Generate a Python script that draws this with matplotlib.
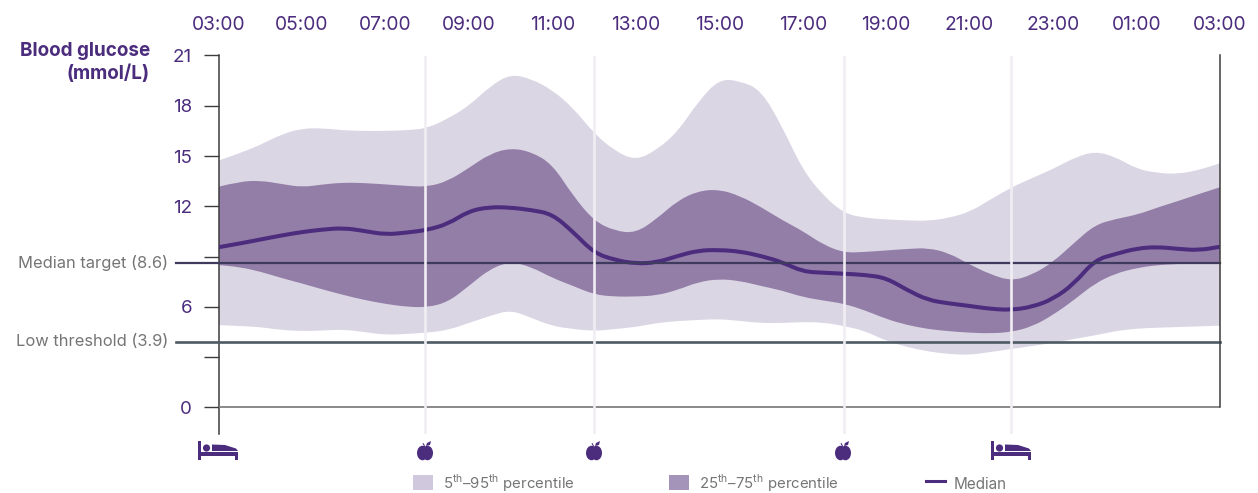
import numpy as np
import matplotlib
matplotlib.use('Agg')
import matplotlib.pyplot as plt
from matplotlib.path import Path
from matplotlib.patches import Ellipse, PathPatch, Polygon, Rectangle, Circle

# Hours since 03:00, one reading every half hour
hours = np.arange(0, 24.5, 0.5)

p95 = [14.73, 15.16, 15.66, 16.29, 16.65, 16.66, 16.53, 16.50, 16.50, 16.54,
       16.65, 17.24, 17.99, 19.15, 19.90, 19.60, 18.94, 17.87, 16.35, 15.30,
       14.74, 15.36, 16.44, 18.26, 19.60, 19.48, 18.94, 16.80, 14.17, 12.62,
       11.57, 11.31, 11.22, 11.16, 11.13, 11.31, 11.66, 12.41, 13.13, 13.69,
       14.23, 14.89, 15.29, 14.95, 14.23, 13.99, 13.93, 14.17, 14.57]
p75 = [13.17, 13.48, 13.54, 13.34, 13.14, 13.31, 13.42, 13.39, 13.31, 13.22,
       13.16, 13.51, 14.29, 15.13, 15.48, 15.25, 14.51, 12.62, 11.13, 10.53,
       10.41, 11.25, 12.34, 12.92, 13.01, 12.62, 11.96, 11.19, 10.53, 9.70,
       9.23, 9.28, 9.37, 9.46, 9.52, 9.22, 8.53, 7.94, 7.55, 7.91,
       8.68, 9.81, 10.89, 11.25, 11.49, 11.93, 12.32, 12.74, 13.14]
p25 = [8.50, 8.38, 8.11, 7.73, 7.40, 7.04, 6.71, 6.41, 6.18, 6.01,
       5.97, 6.29, 7.25, 8.26, 8.71, 8.38, 7.73, 7.25, 6.74, 6.61,
       6.62, 6.68, 7.01, 7.49, 7.67, 7.55, 7.25, 6.98, 6.59, 6.38,
       6.19, 5.79, 5.28, 4.92, 4.68, 4.55, 4.46, 4.42, 4.50, 4.83,
       5.52, 6.41, 7.40, 8.00, 8.32, 8.50, 8.56, 8.62, 8.65]
p5 = [4.92, 4.86, 4.80, 4.62, 4.56, 4.59, 4.65, 4.50, 4.33, 4.39,
      4.46, 4.62, 5.04, 5.46, 5.82, 5.34, 4.86, 4.68, 4.56, 4.68,
      4.80, 5.04, 5.16, 5.22, 5.28, 5.16, 5.04, 5.04, 5.10, 5.07,
      4.86, 4.56, 3.97, 3.61, 3.34, 3.19, 3.13, 3.31, 3.49, 3.67,
      3.85, 4.09, 4.30, 4.56, 4.71, 4.76, 4.80, 4.84, 4.88]
median = [9.56, 9.78, 10.02, 10.26, 10.47, 10.62, 10.71, 10.53, 10.32, 10.43,
          10.59, 10.95, 11.72, 11.96, 11.93, 11.78, 11.54, 10.47, 9.22, 8.80,
          8.58, 8.65, 9.04, 9.37, 9.40, 9.31, 9.04, 8.68, 8.11, 8.04,
          7.98, 7.91, 7.73, 7.01, 6.41, 6.21, 6.06, 5.88, 5.82, 6.00,
          6.47, 7.37, 8.80, 9.16, 9.49, 9.58, 9.46, 9.38, 9.59]

time_ticks = np.arange(0, 25, 2)
time_labels = ['03:00', '05:00', '07:00', '09:00', '11:00', '13:00', '15:00',
               '17:00', '19:00', '21:00', '23:00', '01:00', '03:00']
y_ticks = [0, 3, 6, 9, 12, 15, 18, 21]
y_labels = ['0', '', '6', '', '12', '15', '18', '21']
event_hours = [4.95, 9, 15, 19]
median_target = 8.6
low_threshold = 3.9

PURPLE = '#4b2c7d'
LIGHT = '#dbd6e4'
MID = '#937ea8'
GREY = '#757575'

plt.rcParams['font.family'] = ['Inter', 'DejaVu Sans']
plt.rcParams['mathtext.fontset'] = 'custom'
plt.rcParams['mathtext.rm'] = 'Inter'


# Curve segments with the readings as control points, drawn by the Path itself
def curve(x, y):
    verts = [(x[0], y[0])]
    codes = [Path.MOVETO]
    for i in range(1, len(x) - 1):
        verts += [(x[i], y[i]), ((x[i] + x[i + 1]) / 2, (y[i] + y[i + 1]) / 2)]
        codes += [Path.CURVE3, Path.CURVE3]
    verts.append((x[-1], y[-1]))
    codes.append(Path.LINETO)
    return verts, codes


def band(x, low, high, color, z):
    v1, c1 = curve(x, high)
    v2, c2 = curve(x[::-1], low[::-1])
    c2[0] = Path.LINETO
    path = Path(v1 + v2 + [v1[0]], c1 + c2 + [Path.CLOSEPOLY])
    ax.add_patch(PathPatch(path, facecolor=color, lw=0, zorder=z))


W, H = 1258, 493
fig = plt.figure(figsize=(W / 100, H / 100), dpi=100)

# Main axes, runs below zero so the vertical lines can hang under the plot
left, right, top, bottom = 218.5, 1220, 55.5, 434
ax = fig.add_axes([left / W, 1 - bottom / H, (right - left) / W, (bottom - top) / H])
ax.set_xlim(0, 24)
ax.set_ylim(-(bottom - 407.5) / 16.76, 21)
ax.patch.set_visible(False)

band(hours, p5, p95, LIGHT, 1)
band(hours, p25, p75, MID, 2)
mv, mc = curve(hours, median)
ax.add_patch(PathPatch(Path(mv, mc), facecolor='none', edgecolor=PURPLE, lw=2.9,
                       capstyle='butt', zorder=3))

# Target lines and the zero line reach out past the axis
trans = ax.get_yaxis_transform()
ax.plot([-0.0425, 1], [median_target] * 2, transform=trans, color='#3f3b5e', lw=1.6, clip_on=False, zorder=4)
ax.plot([-0.0425, 1], [low_threshold] * 2, transform=trans, color='#4d5a64', lw=1.9, clip_on=False, zorder=4)
ax.axhline(0, color='#808080', lw=1.3, zorder=4)
ax.plot([24, 24], [0, 21], color='#3c3c3c', lw=1.1, clip_on=False, zorder=5)

for h in event_hours:
    ax.axvline(h, color='#f1eef3', lw=1.9, zorder=6)

for name in ['top', 'right', 'bottom']:
    ax.spines[name].set_visible(False)
ax.spines['left'].set_color('#3c3c3c')
ax.spines['left'].set_linewidth(1.1)

ax.set_yticks(y_ticks)
ax.set_yticklabels(y_labels, fontsize=13.5, color=PURPLE)
ax.tick_params(axis='y', length=11, width=1.0, color='#3c3c3c', pad=8)

ax.xaxis.tick_top()
ax.set_xticks(time_ticks)
ax.set_xticklabels(time_labels, fontsize=13.8, color=PURPLE)
ax.tick_params(axis='x', length=0, pad=15.3)

# Overlay in picture pixels for labels, legend and icons
ov = fig.add_axes([0, 0, 1, 1])
ov.set_xlim(0, W)
ov.set_ylim(H, 0)
ov.axis('off')

ov.text(150, 51.5, 'Blood glucose', ha='right', va='center', fontsize=13.6, fontweight='bold', color=PURPLE)
ov.text(150, 73.5, '(mmol/L)', ha='right', va='center', fontsize=13.6, fontweight='bold', color=PURPLE)
ov.text(168, 263, 'Median target (8.6)', ha='right', va='center', fontsize=11.9, color=GREY)
ov.text(168, 342, 'Low threshold (3.9)', ha='right', va='center', fontsize=11.9, color=GREY)


def bed(x):
    c = PURPLE
    ov.add_patch(Rectangle((x, 441), 3, 19, color=c, lw=0))
    ov.add_patch(Rectangle((x, 452), 40, 4, color=c, lw=0))
    ov.add_patch(Rectangle((x + 37, 452), 3, 8, color=c, lw=0))
    ov.add_patch(Circle((x + 8.5, 448), 3.6, color=c, lw=0))
    ov.add_patch(Polygon([(x + 14, 444.5), (x + 27, 445), (x + 38, 448.5), (x + 40, 451), (x + 14, 451)], color=c, lw=0))


def apple(x):
    c = PURPLE
    ov.add_patch(Ellipse((x - 2.5, 453), 11, 14.5, color=c, lw=0))
    ov.add_patch(Ellipse((x + 2.5, 453), 11, 14.5, color=c, lw=0))
    ov.add_patch(Polygon([(x + 1, 446), (x + 2, 443), (x + 6, 441), (x + 5, 445)], color=c, lw=0))
    ov.add_patch(Polygon([(x - 2.5, 443.5), (x - 1.5, 443), (x + 0.5, 447), (x - 0.5, 447)], color=c, lw=0))


bed(198)
bed(991)
for x in [425, 594, 843]:
    apple(x)

# Legend
ov.add_patch(Rectangle((413, 475), 20, 15, color='#d0c9dd', lw=0))
ov.add_patch(Rectangle((669, 475), 20, 15, color='#a594ba', lw=0))
ov.plot([926, 945], [481, 481], color=PURPLE, lw=2.2)
ov.text(443, 489, r'5$^{\mathrm{th}}$–95$^{\mathrm{th}}$ percentile', ha='left', va='baseline', fontsize=10.8, color=GREY)
ov.text(699, 489, r'25$^{\mathrm{th}}$–75$^{\mathrm{th}}$ percentile', ha='left', va='baseline', fontsize=10.8, color=GREY)
ov.text(954, 489, 'Median', ha='left', va='baseline', fontsize=11, color=GREY)

fig.savefig('out.png', dpi=100)
